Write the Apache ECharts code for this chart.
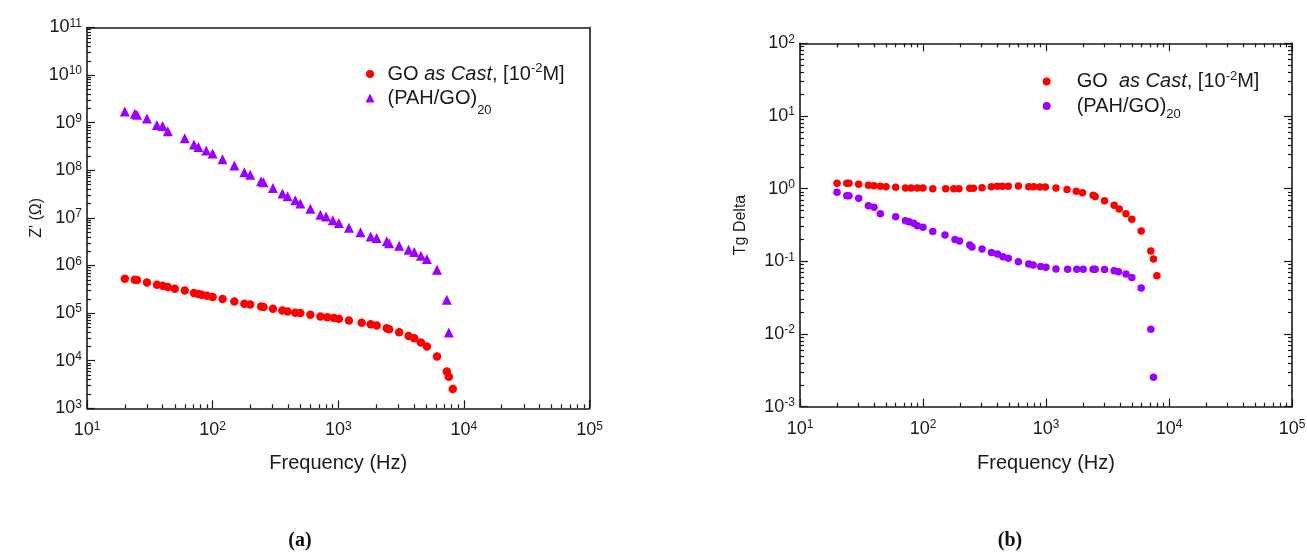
<!DOCTYPE html>
<html>
<head>
<meta charset="utf-8">
<script src="https://cdn.jsdelivr.net/npm/echarts@6/dist/echarts.min.js"></script>
<style>
html, body { margin: 0; padding: 0; background: #fff; }
#main { width: 1307px; height: 552px; }
</style>
</head>
<body>
<div id="main"></div>
<script>
// (a) Z' vs frequency
var freqGoA = [20, 24, 25, 30, 36, 40, 44, 50, 60, 71, 77, 82, 90, 100, 120, 149, 179, 199, 243, 254,
    302, 359, 395, 455, 499, 600, 721, 817, 922, 1012, 1216, 1536, 1811, 2023, 2432, 2541, 3055, 3631, 4027, 4551,
    5081, 6109, 7311, 7586, 8168];
var zGoA = [5.27e5, 5.0e5, 4.95e5, 4.41e5, 3.94e5, 3.76e5, 3.52e5, 3.24e5, 2.99e5, 2.63e5,
    2.51e5, 2.43e5, 2.31e5, 2.17e5, 1.97e5, 1.76e5, 1.57e5, 1.51e5, 1.38e5, 1.34e5,
    1.23e5, 1.13e5, 1.08e5, 1.02e5, 1.0e5, 9.2e4, 8.5e4, 8.2e4, 7.85e4, 7.6e4,
    6.98e4, 6.3e4, 5.86e4, 5.48e4, 4.83e4, 4.6e4, 3.98e4, 3.31e4, 2.95e4, 2.4e4,
    1.98e4, 1.22e4, 5.9e3, 4.6e3, 2.55e3];
var freqPahA = [20, 24, 25, 30, 36, 40, 44, 60, 71, 77, 89, 100, 120, 149, 179, 199, 243, 254, 302, 359,
    395, 455, 499, 600, 721, 800, 905, 1012, 1216, 1503, 1811, 2023, 2432, 2541, 3055, 3631, 4027, 4551, 5081, 6109,
    7311, 7586];
var zPahA = [1.71e9, 1.55e9, 1.47e9, 1.23e9, 8.9e8, 8.5e8, 6.6e8, 4.7e8, 3.47e8, 3.09e8,
    2.61e8, 2.26e8, 1.7e8, 1.26e8, 9.1e7, 8.1e7, 5.9e7, 5.6e7, 4.27e7, 3.24e7,
    2.85e7, 2.35e7, 2.0e7, 1.55e7, 1.17e7, 1.07e7, 8.9e6, 7.85e6, 6.2e6, 5.0e6,
    4.07e6, 3.8e6, 3.24e6, 2.95e6, 2.61e6, 2.15e6, 1.92e6, 1.61e6, 1.37e6, 8.1e5,
    1.9e5, 3.9e4];

// (b) Tg Delta vs frequency
var freqGoB = [20, 24, 25, 30, 36, 40, 45, 50, 60, 72, 80, 90, 100, 120, 153, 178, 196, 240, 257, 302,
    360, 403, 442, 494, 596, 724, 795, 891, 989, 1205, 1483, 1762, 1980, 2415, 2512, 2992, 3583, 3939, 4467, 4989,
    5943, 7115, 7482, 7965];
var tgGoB = [1.19, 1.19, 1.19, 1.15, 1.11, 1.10, 1.08, 1.065, 1.045, 1.025,
    1.02, 1.02, 1.02, 1.0, 1.0, 1.0, 1.0, 1.01, 1.01, 1.03,
    1.065, 1.08, 1.08, 1.08, 1.09, 1.065, 1.065, 1.055, 1.055, 1.02,
    0.97, 0.92, 0.88, 0.81, 0.78, 0.68, 0.59, 0.525, 0.45, 0.38,
    0.262, 0.139, 0.108, 0.0635];
var freqPahB = [20, 24, 25, 30, 36, 40, 45, 60, 72, 77, 84, 90, 100, 120, 151, 182, 198, 240, 250, 302,
    360, 403, 446, 494, 596, 724, 786, 905, 1000, 1205, 1500, 1780, 2005, 2415, 2512, 2992, 3583, 3880, 4467, 4989,
    5943, 7115, 7482];
var tgPahB = [0.89, 0.80, 0.80, 0.74, 0.58, 0.555, 0.45, 0.41, 0.363, 0.35,
    0.334, 0.31, 0.294, 0.257, 0.23, 0.20, 0.19, 0.168, 0.158, 0.148,
    0.132, 0.126, 0.116, 0.110, 0.099, 0.092, 0.089, 0.085, 0.083, 0.0785,
    0.078, 0.078, 0.078, 0.078, 0.078, 0.077, 0.074, 0.072, 0.067, 0.060,
    0.043, 0.0116, 0.00255];

// decade tick labels
var freqTicks = [1e1, 1e2, 1e3, 1e4, 1e5];
var zTicks = [1e3, 1e4, 1e5, 1e6, 1e7, 1e8, 1e9, 1e10, 1e11];
var tgTicks = [1e-3, 1e-2, 1e-1, 1e0, 1e1, 1e2];

var legendText = {
    goA: 'GO {i|as Cast}, [10{sup|-2}M]',
    pahA: '(PAH/GO){sub|20}',
    goB: 'GO  {i|as Cast}, [10{sup|-2}M]',
    pahB: '(PAH/GO){sub|20}'
};

var RED = '#ff0000';
var PURPLE = '#9b00ff';
var INK = '#1a1a1a';
var FONT = 'Liberation Sans';
var TRIANGLE_ICON = 'path://M5,0L10,10L0,10Z';

// 2..9 x each decade, for the small ticks
function minorsOf(decades) {
    var res = [];
    for (var i = 0; i < decades.length - 1; i++) {
        for (var k = 2; k <= 9; k++) res.push(decades[i] * k);
    }
    return res;
}
function pairs(xs, ys) {
    var res = [];
    for (var i = 0; i < xs.length; i++) res.push([xs[i], ys[i]]);
    return res;
}
function expLabel(v) {
    return '10{sup|' + Math.round(Math.log(v) / Math.LN10) + '}';
}

// one log axis; cfg: line, ticks, len, labels, name...
function logAxis(gridIndex, position, decades, cfg) {
    var ax = {
        type: 'log',
        logBase: 10,
        gridIndex: gridIndex,
        position: position,
        min: decades[0],
        max: decades[decades.length - 1],
        axisLine: { show: !!cfg.line, onZero: false, lineStyle: { color: INK, width: 1.6 } },
        axisTick: { show: false },
        axisLabel: { show: false },
        splitLine: { show: false },
        minorTick: { show: false },
        minorSplitLine: { show: false }
    };
    if (cfg.ticks) {
        ax.axisTick = { show: true, inside: true, length: cfg.len, customValues: cfg.ticks,
            lineStyle: { color: INK, width: 1.2 } };
    }
    if (cfg.labels) {
        ax.axisLabel = {
            show: true,
            customValues: decades,
            formatter: expLabel,
            margin: cfg.margin,
            color: INK,
            fontFamily: FONT,
            fontSize: 18,
            lineHeight: 20,
            rich: { sup: { fontFamily: FONT, fontSize: 12, lineHeight: 13, verticalAlign: 'top', color: INK } }
        };
    }
    if (cfg.name) {
        ax.name = cfg.name;
        ax.nameLocation = 'middle';
        ax.nameGap = cfg.nameGap;
        ax.nameTextStyle = { fontFamily: FONT, fontSize: cfg.nameSize, color: INK };
    }
    return ax;
}

var richLegend = {
    i: { fontFamily: FONT, fontSize: 20, fontStyle: 'italic', color: INK },
    sup: { fontFamily: FONT, fontSize: 13, lineHeight: 16, verticalAlign: 'top', color: INK },
    sub: { fontFamily: FONT, fontSize: 13, lineHeight: 12, verticalAlign: 'bottom', color: INK }
};
// left is the icon's own left edge (legend box starts at the drawn mark)
function oneLegend(name, icon, left, top, iconW, iconH, lineH) {
    return {
        data: [{ name: name, icon: icon }],
        left: left,
        top: top,
        padding: 0,
        itemWidth: iconW,
        itemHeight: iconH,
        symbolKeepAspect: true,
        selectedMode: false,
        formatter: function (n) { return legendText[n]; },
        textStyle: { fontFamily: FONT, fontSize: 20, lineHeight: lineH, color: INK, rich: richLegend }
    };
}

var dom = document.getElementById('main');
var myChart = echarts.init(dom, null, { renderer: 'canvas' });

var freqMinor = minorsOf(freqTicks);

var option = {
    animation: false,
    backgroundColor: '#fff',
    grid: [
        { left: 87, top: 27.5, width: 502.5, height: 380.8, outerBoundsMode: 'none' },
        { left: 800, top: 43.3, width: 492, height: 363.4, outerBoundsMode: 'none' }
    ],
    xAxis: [
        // (a)
        logAxis(0, 'bottom', freqTicks, { line: true, ticks: freqTicks, len: 8, labels: true, margin: 12,
            name: 'Frequency (Hz)', nameGap: 45, nameSize: 20 }),
        logAxis(0, 'bottom', freqTicks, { ticks: freqMinor, len: 4 }),
        logAxis(0, 'top', freqTicks, { line: true }),
        // (b)
        logAxis(1, 'bottom', freqTicks, { line: true, ticks: freqTicks, len: 8, labels: true, margin: 12,
            name: 'Frequency (Hz)', nameGap: 47, nameSize: 20 }),
        logAxis(1, 'bottom', freqTicks, { ticks: freqMinor, len: 4 }),
        logAxis(1, 'top', freqTicks, { line: true, ticks: freqTicks, len: 8 }),
        logAxis(1, 'top', freqTicks, { ticks: freqMinor, len: 4 })
    ],
    yAxis: [
        // (a)
        logAxis(0, 'left', zTicks, { line: true, ticks: zTicks, len: 8, labels: true, margin: 5,
            name: "Z' (\u03A9)", nameGap: 36, nameSize: 16 }),
        logAxis(0, 'left', zTicks, { ticks: minorsOf(zTicks), len: 4 }),
        logAxis(0, 'right', zTicks, { line: true }),
        // (b)
        logAxis(1, 'left', tgTicks, { line: true, ticks: tgTicks, len: 8, labels: true, margin: 5,
            name: 'Tg Delta', nameGap: 51, nameSize: 16 }),
        logAxis(1, 'left', tgTicks, { ticks: minorsOf(tgTicks), len: 4 }),
        logAxis(1, 'right', tgTicks, { line: true, ticks: tgTicks, len: 8 }),
        logAxis(1, 'right', tgTicks, { ticks: minorsOf(tgTicks), len: 4 })
    ],
    legend: [
        oneLegend('goA', 'circle', 366, 62, 25, 8, 24),
        oneLegend('pahA', TRIANGLE_ICON, 365.5, 79.5, 25, 9, 37),
        oneLegend('goB', 'circle', 1042.7, 69.5, 50, 8, 24),
        oneLegend('pahB', 'circle', 1042.7, 91, 50, 8, 30)
    ],
    series: [
        { name: 'goA', type: 'scatter', xAxisIndex: 0, yAxisIndex: 0, symbol: 'circle', symbolSize: 8.5,
            itemStyle: { color: RED, opacity: 1 }, data: pairs(freqGoA, zGoA) },
        { name: 'pahA', type: 'scatter', xAxisIndex: 0, yAxisIndex: 0, symbol: 'triangle', symbolSize: 10,
            itemStyle: { color: PURPLE, opacity: 1 }, data: pairs(freqPahA, zPahA) },
        { name: 'goB', type: 'scatter', xAxisIndex: 3, yAxisIndex: 3, symbol: 'circle', symbolSize: 7.5,
            itemStyle: { color: RED, opacity: 1 }, data: pairs(freqGoB, tgGoB) },
        { name: 'pahB', type: 'scatter', xAxisIndex: 3, yAxisIndex: 3, symbol: 'circle', symbolSize: 7.5,
            itemStyle: { color: PURPLE, opacity: 1 }, data: pairs(freqPahB, tgPahB) }
    ],
    graphic: [
        { type: 'text', x: 300, y: 541, style: { text: '(a)', align: 'center', verticalAlign: 'middle',
            font: 'bold 20px "Liberation Serif"', fill: '#111' } },
        { type: 'text', x: 1010, y: 541, style: { text: '(b)', align: 'center', verticalAlign: 'middle',
            font: 'bold 20px "Liberation Serif"', fill: '#111' } }
    ]
};
myChart.setOption(option);
</script>
</body>
</html>
